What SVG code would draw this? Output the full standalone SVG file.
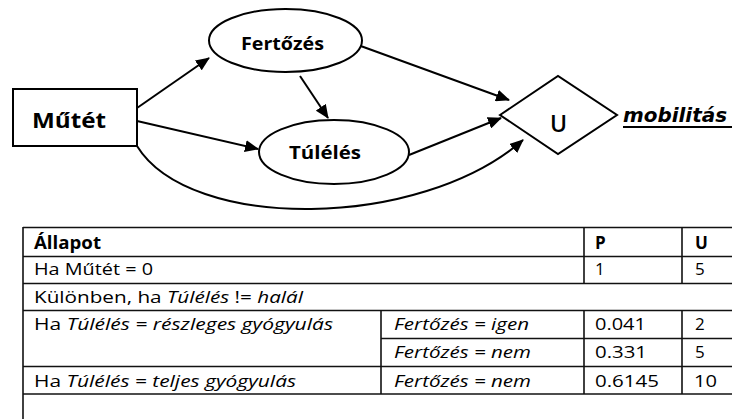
<svg xmlns="http://www.w3.org/2000/svg" width="732" height="419" viewBox="0 0 732 419">
<defs>
<style>
.shape{fill:#fff;stroke:#000;stroke-width:2}
.conn{fill:none;stroke:#000;stroke-width:2}
.nl{font-family:"Open Sans","Noto Sans",sans-serif;font-weight:bold;fill:#000}
.tl{stroke:#111;stroke-width:1.6;fill:none}
.tt{font-family:"Open Sans","Noto Sans",sans-serif;font-size:17px;fill:#000}
.b{font-weight:bold}
.i{font-style:italic}
</style>
<marker id="ah" viewBox="0 0 14 12" refX="13" refY="6" markerWidth="14" markerHeight="12" markerUnits="userSpaceOnUse" orient="auto">
<path d="M0,0 L14,6 L0,12 z" fill="#000"/>
</marker>
</defs>
<rect width="732" height="419" fill="#fff"/>

<g id="connectors">
<line class="conn" x1="137" y1="108" x2="209" y2="58" marker-end="url(#ah)"/>
<line class="conn" x1="300" y1="76" x2="328" y2="118" marker-end="url(#ah)"/>
<line class="conn" x1="137" y1="121" x2="258" y2="149" marker-end="url(#ah)"/>
<line class="conn" x1="358" y1="45" x2="509" y2="100" marker-end="url(#ah)"/>
<line class="conn" x1="409" y1="155" x2="501" y2="118" marker-end="url(#ah)"/>
<path class="conn" d="M137,146 C190,232 420,230 523,140" marker-end="url(#ah)"/>
</g>

<g id="node-mutet">
<rect class="shape" x="13" y="89" width="124" height="57"/>
<text class="nl" x="32" y="128" font-size="22" textLength="74" lengthAdjust="spacingAndGlyphs">Műtét</text>
</g>
<g id="node-fertozes">
<ellipse class="shape" cx="285.5" cy="40.5" rx="76.5" ry="31.5"/>
<text class="nl" x="241" y="50" font-size="18" textLength="83" lengthAdjust="spacingAndGlyphs">Fertőzés</text>
</g>
<g id="node-tuleles">
<ellipse class="shape" cx="334" cy="152" rx="75" ry="32"/>
<text class="nl" x="289" y="159" font-size="18" textLength="72" lengthAdjust="spacingAndGlyphs">Túlélés</text>
</g>
<g id="node-u">
<polygon class="shape" points="500,115 558,76 617,115 558,154"/>
<text x="558.5" y="132" font-family="Open Sans,Noto Sans,sans-serif" font-size="23" font-weight="600" text-anchor="middle" fill="#000">U</text>
</g>
<g id="label-mobilitas">
<text x="623" y="122" font-family="DejaVu Sans,Verdana,sans-serif" font-size="20" font-weight="bold" font-style="italic" fill="#000" textLength="104" lengthAdjust="spacingAndGlyphs">mobilitás</text>
<line x1="623" y1="127" x2="732" y2="127" stroke="#000" stroke-width="2"/>
</g>

<g id="table">
<g class="tl">
<line x1="23" y1="227.5" x2="732" y2="227.5"/>
<line x1="23" y1="256.5" x2="732" y2="256.5"/>
<line x1="23" y1="283.5" x2="732" y2="283.5"/>
<line x1="23" y1="310.5" x2="732" y2="310.5"/>
<line x1="381" y1="338.5" x2="732" y2="338.5"/>
<line x1="23" y1="366.5" x2="732" y2="366.5"/>
<line x1="23" y1="394" x2="732" y2="394"/>
<line x1="23" y1="227" x2="23" y2="419"/>
<line x1="381" y1="310.5" x2="381" y2="394"/>
<line x1="584" y1="227" x2="584" y2="283.5"/>
<line x1="584" y1="310.5" x2="584" y2="394"/>
<line x1="682" y1="227" x2="682" y2="283.5"/>
<line x1="682" y1="310.5" x2="682" y2="394"/>
</g>
<text class="tt b" x="34" y="249" textLength="67" lengthAdjust="spacingAndGlyphs">Állapot</text>
<text class="tt b" x="595" y="249">P</text>
<text class="tt b" x="695" y="249">U</text>
<text class="tt" x="34" y="275" textLength="119" lengthAdjust="spacingAndGlyphs">Ha Műtét = 0</text>
<text class="tt" x="595" y="275">1</text>
<text class="tt" x="695" y="275">5</text>
<text class="tt" x="34" y="303" textLength="269" lengthAdjust="spacingAndGlyphs">Különben, ha <tspan class="i">Túlélés</tspan> != <tspan class="i">halál</tspan></text>
<text class="tt" x="34" y="330" textLength="299" lengthAdjust="spacingAndGlyphs">Ha <tspan class="i">Túlélés = részleges gyógyulás</tspan></text>
<text class="tt i" x="394" y="330" textLength="135" lengthAdjust="spacingAndGlyphs">Fertőzés = igen</text>
<text class="tt" x="595" y="330" textLength="51" lengthAdjust="spacingAndGlyphs">0.041</text>
<text class="tt" x="695" y="330">2</text>
<text class="tt i" x="394" y="358" textLength="137" lengthAdjust="spacingAndGlyphs">Fertőzés = nem</text>
<text class="tt" x="595" y="358" textLength="52" lengthAdjust="spacingAndGlyphs">0.331</text>
<text class="tt" x="695" y="358">5</text>
<text class="tt" x="34" y="387" textLength="262" lengthAdjust="spacingAndGlyphs">Ha <tspan class="i">Túlélés = teljes gyógyulás</tspan></text>
<text class="tt i" x="394" y="387" textLength="137" lengthAdjust="spacingAndGlyphs">Fertőzés = nem</text>
<text class="tt" x="595" y="387" textLength="64" lengthAdjust="spacingAndGlyphs">0.6145</text>
<text class="tt" x="694" y="387" textLength="23" lengthAdjust="spacingAndGlyphs">10</text>
</g>
</svg>
